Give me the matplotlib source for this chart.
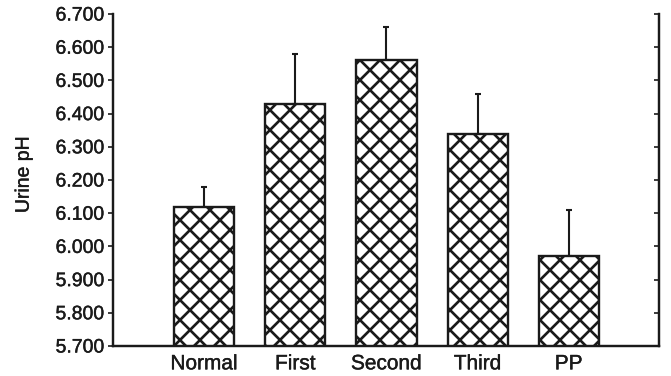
import numpy as np
import matplotlib.pyplot as plt
import matplotlib.patheffects as pe

plt.rcParams['font.family'] = ['Liberation Sans', 'DejaVu Sans']

groups = ['Normal', 'First', 'Second', 'Third', 'PP']
mean_ph = [6.12, 6.43, 6.56, 6.34, 5.97]
sem_ph = [0.06, 0.15, 0.10, 0.12, 0.14]
yticks = np.arange(5.7, 6.71, 0.1)

# drawn at 120 dpi so the crosshatch comes out a bit coarser
DPI = 120
k = 100 / DPI
ink = '#1a1a1a'
plt.rcParams['hatch.linewidth'] = 1.6
plt.rcParams['hatch.color'] = ink
heavy = [pe.withStroke(linewidth=0.25, foreground=ink)]

fig = plt.figure(figsize=(671 / DPI, 376 / DPI), dpi=DPI)
ax = fig.add_axes([0.1684, 0.0798, 0.8137, 0.883])

x = np.arange(len(groups))
ax.bar(x, mean_ph, width=0.66, bottom=0, color='white', edgecolor=ink,
       linewidth=1.7 * k, hatch='xx', zorder=2)
# upper half of the error bar only
ax.errorbar(x, mean_ph, yerr=[np.zeros(len(sem_ph)), sem_ph], fmt='none',
            ecolor=ink, elinewidth=1.5 * k, capsize=2.5 * k,
            capthick=1.5 * k, zorder=1)

ax.set_xlim(-1.0, 4.99)
ax.set_ylim(5.7, 6.7)
ax.set_yticks(yticks)
ax.set_yticklabels(['%.3f' % v for v in yticks], fontsize=14 * k,
                   color=ink, path_effects=heavy)
ax.set_xticks(x)
ax.set_xticklabels(groups, fontsize=15 * k, color=ink, path_effects=heavy)
ax.tick_params(axis='x', length=0, pad=6 * k)
ax.tick_params(axis='y', direction='out', length=3.5 * k, width=1.2 * k,
               pad=3 * k, right=False, color=ink)

# right-hand axis carries inward ticks without labels
ax2 = ax.twinx()
ax2.set_ylim(5.7, 6.7)
ax2.set_yticks(yticks)
ax2.set_yticklabels([])
ax2.tick_params(axis='y', right=True, direction='in', length=3.5 * k,
                width=1.2 * k, color=ink)

for a in (ax, ax2):
    a.spines['top'].set_visible(False)
    for s in ('left', 'right', 'bottom'):
        a.spines[s].set_linewidth(1.6 * k)
        a.spines[s].set_color(ink)

fig.text(0.036, 0.535, 'Urine pH', rotation=90, fontsize=14 * k,
         ha='center', va='center', color=ink, path_effects=heavy)

fig.savefig('out.png', dpi=DPI)
